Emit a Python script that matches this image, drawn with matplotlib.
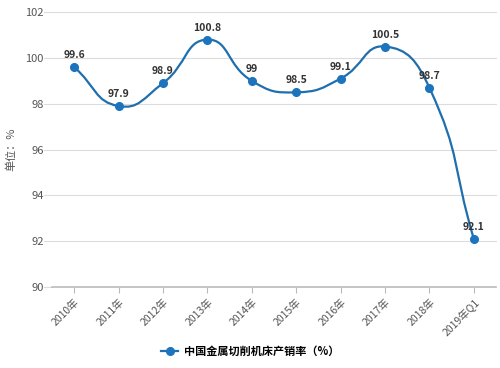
import numpy as np
import matplotlib as mpl
mpl.use('Agg')
import matplotlib.pyplot as plt
from matplotlib.path import Path
from matplotlib.patches import PathPatch
from matplotlib.lines import Line2D

plt.rcParams['font.family'] = ['Noto Sans CJK SC', 'DejaVu Sans']

years = ['2010年', '2011年', '2012年', '2013年', '2014年', '2015年',
         '2016年', '2017年', '2018年', '2019年Q1']
rate = [99.6, 97.9, 98.9, 100.8, 99, 98.5, 99.1, 100.5, 98.7, 92.1]
labels = ['99.6', '97.9', '98.9', '100.8', '99', '98.5', '99.1', '100.5', '98.7', '92.1']

LINE = '#1f6fae'
DOT = '#1b74bd'


def smooth_path(xs, ys, sx, sy, smooth=0.5):
    # echarts-like bezier smoothing, distances measured in pixel space
    px = np.array(xs, float) * sx
    py = np.array(ys, float) * sy
    n = len(px)
    cps = []
    for i in range(n):
        p = np.array([px[i], py[i]])
        prev = np.array([px[i - 1], py[i - 1]]) if i > 0 else p
        nxt = np.array([px[i + 1], py[i + 1]]) if i < n - 1 else p
        v = (nxt - prev) * smooth
        d0 = np.hypot(*(p - prev))
        d1 = np.hypot(*(nxt - p))
        s = d0 + d1 if d0 + d1 else 1
        cps.append((p - v * d0 / s, p + v * d1 / s))
    verts = [(px[0], py[0])]
    codes = [Path.MOVETO]
    for i in range(n - 1):
        verts += [tuple(cps[i][1]), tuple(cps[i + 1][0]), (px[i + 1], py[i + 1])]
        codes += [Path.CURVE4] * 3
    verts = [(x / sx, y / sy) for x, y in verts]
    return Path(verts, codes)


fig = plt.figure(figsize=(5, 3.68), dpi=100)
ax = fig.add_axes([0.104, 0.22, 0.888, 0.747])

x = np.arange(len(years))
ax.set_xlim(-0.5, len(years) - 0.5)
ax.set_ylim(90, 102)
ax.set_yticks(np.arange(90, 103, 2))

for yv in np.arange(92, 103, 2):
    ax.axhline(yv, xmin=-0.018, xmax=1, color='#dcdcdc', lw=0.8, clip_on=False, zorder=0)
ax.axhline(90, xmin=-0.018, xmax=0, color='#dcdcdc', lw=0.8, clip_on=False, zorder=0)

path = smooth_path(x, rate, 44.4, 22.9)
ax.add_patch(PathPatch(path, fill=False, edgecolor=LINE, lw=1.6, zorder=2))
ax.plot(x, rate, 'o', color=DOT, ms=5.5, zorder=3)

for xi, yi, t in zip(x, rate, labels):
    ax.annotate(t, (xi, yi), xytext=(0, 5), textcoords='offset points',
                ha='center', va='bottom', fontsize=7.5, fontweight='bold', color='#333333')

for s in ['top', 'right', 'left']:
    ax.spines[s].set_visible(False)
ax.spines['bottom'].set_color('#bbbbbb')
ax.spines['bottom'].set_linewidth(1.2)

ax.set_xticks(x)
ax.set_xticklabels(years, rotation=45, ha='right', rotation_mode='anchor', fontsize=7.5, color='#555555')
ax.tick_params(axis='x', length=4, color='#bbbbbb', pad=3)
ax.tick_params(axis='y', length=0, labelsize=8, labelcolor='#555555', pad=6)
ax.set_ylabel('单位：%', fontsize=8, color='#555555', labelpad=6)

handle = Line2D([], [], color=LINE, lw=1.6, marker='o', ms=5.5, markerfacecolor=DOT, markeredgecolor=DOT)
fig.legend([handle], ['中国金属切削机床产销率（%）'], loc='center', bbox_to_anchor=(0.5, 0.045),
           frameon=False, prop={'size': 8, 'weight': 'bold'}, handlelength=1.6, handletextpad=0.5)

fig.savefig('out.png', dpi=100)
